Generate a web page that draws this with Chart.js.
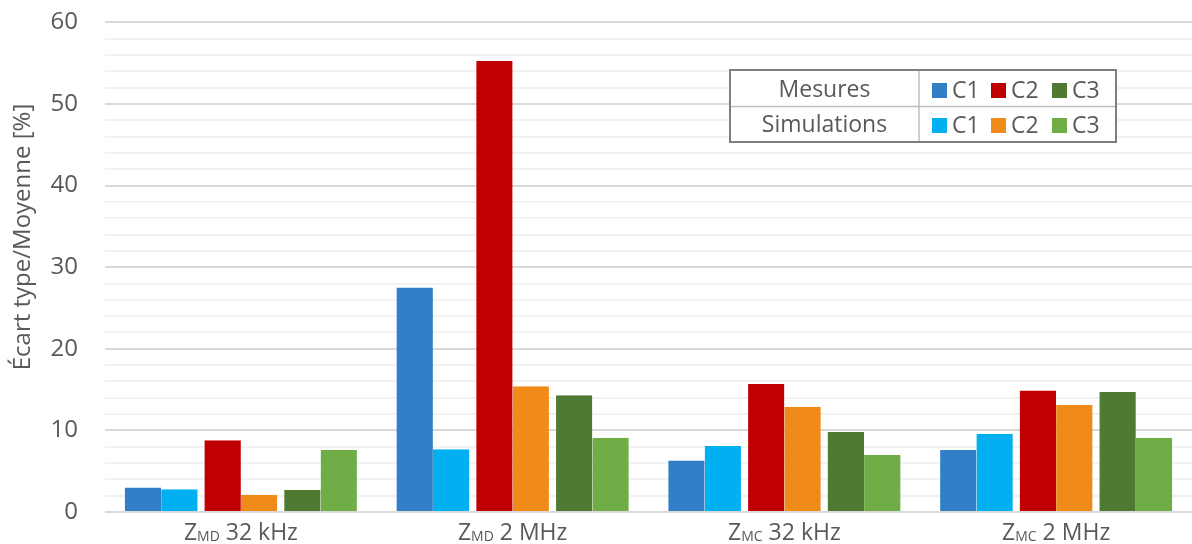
<!DOCTYPE html>
<html>
<head>
<meta charset="utf-8">
<script src="https://cdn.jsdelivr.net/npm/chart.js"></script>
<style>
  html, body { margin: 0; padding: 0; background: #fff; }
  #wrap { width: 1192px; height: 544px; }
</style>
</head>
<body>
<div id="wrap"><canvas id="ecartChart"></canvas></div>
<script>
// data
const categories = ['ZMD 32 kHz', 'ZMD 2 MHz', 'ZMC 32 kHz', 'ZMC 2 MHz'];
const catSub = ['MD', 'MD', 'MC', 'MC'];
const catSuffix = ['32 kHz', '2 MHz', '32 kHz', '2 MHz'];

const mesuresC1 = [3.0, 27.5, 6.3, 7.6];
const simC1 = [2.8, 7.7, 8.1, 9.6];
const mesuresC2 = [8.8, 55.3, 15.7, 14.9];
const simC2 = [2.1, 15.4, 12.9, 13.1];
const mesuresC3 = [2.7, 14.3, 9.8, 14.7];
const simC3 = [7.6, 9.1, 7.0, 9.1];

const yMin = 0;
const yMax = 60;
const yMajor = 10;
const yMinor = 2;
const yTitle = 'Écart type/Moyenne [%]';

const FONT = '"Open Sans", sans-serif';
const TXT = '#595959';
const GAP = 3.6; // half gap between pairs of bars

// mesures bars get a transparent border on the left, simulations on the right
function makeSet(label, data, color, isMes) {
  return {
    label: label,
    data: data,
    backgroundColor: color,
    borderColor: 'rgba(0,0,0,0)',
    borderWidth: isMes ? { left: GAP, right: 0, top: 0, bottom: 0 } : { left: 0, right: GAP, top: 0, bottom: 0 },
    borderSkipped: false,
    barPercentage: 1,
    categoryPercentage: 0.88
  };
}

const datasets = [
  makeSet('Mesures C1', mesuresC1, '#327fc8', true),
  makeSet('Simulations C1', simC1, '#00b0f0', false),
  makeSet('Mesures C2', mesuresC2, '#c00000', true),
  makeSet('Simulations C2', simC2, '#f08a18', false),
  makeSet('Mesures C3', mesuresC3, '#4e7a31', true),
  makeSet('Simulations C3', simC3, '#70ad47', false)
];

// table legend, y title and x labels with subscripts
const customDraw = {
  id: 'customDraw',
  afterDraw(chart) {
    const ctx = chart.ctx;
    const xs = chart.scales.x;
    ctx.save();

    // y title
    ctx.save();
    ctx.translate(23, 237);
    ctx.rotate(-Math.PI / 2);
    ctx.font = '24px ' + FONT;
    ctx.fillStyle = TXT;
    ctx.textAlign = 'center';
    ctx.textBaseline = 'middle';
    ctx.fillText(yTitle, 0, 0);
    ctx.restore();

    // x labels
    ctx.fillStyle = TXT;
    ctx.textBaseline = 'alphabetic';
    ctx.textAlign = 'left';
    const big = '23px ' + FONT;
    const small = '14px ' + FONT;
    categories.forEach((c, i) => {
      ctx.font = big;
      const wZ = ctx.measureText('Z').width;
      const wRest = ctx.measureText(' ' + catSuffix[i]).width;
      ctx.font = small;
      const wSub = ctx.measureText(catSub[i]).width;
      const total = wZ + wSub + wRest;
      let x = xs.getPixelForTick(i) - total / 2;
      const y = 540;
      ctx.font = big;
      ctx.fillText('Z', x, y);
      x += wZ;
      ctx.font = small;
      ctx.fillText(catSub[i], x, y + 1);
      x += wSub;
      ctx.font = big;
      ctx.fillText(' ' + catSuffix[i], x, y);
    });

    // legend table
    const L = 730, R = 1116, T = 70, B = 142, MID = 919, ROW = 106.5;
    ctx.fillStyle = '#ffffff';
    ctx.fillRect(L, T, R - L, B - T);
    ctx.strokeStyle = '#bfbfbf';
    ctx.lineWidth = 1.5;
    ctx.beginPath();
    ctx.moveTo(L, ROW); ctx.lineTo(R, ROW);
    ctx.moveTo(MID, T); ctx.lineTo(MID, B);
    ctx.stroke();
    ctx.strokeStyle = '#7f7f7f';
    ctx.lineWidth = 2;
    ctx.strokeRect(L, T, R - L, B - T);

    const rows = [
      { name: 'Mesures', sets: [0, 2, 4], y: 90 },
      { name: 'Simulations', sets: [1, 3, 5], y: 125 }
    ];
    const names = ['C1', 'C2', 'C3'];
    const boxX = [932, 991, 1052];
    ctx.font = '23px ' + FONT;
    ctx.textBaseline = 'middle';
    rows.forEach(r => {
      ctx.fillStyle = TXT;
      ctx.textAlign = 'center';
      ctx.fillText(r.name, (L + MID) / 2, r.y);
      r.sets.forEach((d, k) => {
        ctx.fillStyle = chart.data.datasets[d].backgroundColor;
        ctx.fillRect(boxX[k], r.y - 7, 15, 15);
        ctx.fillStyle = TXT;
        ctx.textAlign = 'left';
        ctx.fillText(names[k], boxX[k] + 20, r.y + 1);
      });
    });
    ctx.restore();
  }
};

new Chart(document.getElementById('ecartChart'), {
  type: 'bar',
  data: {
    labels: categories,
    datasets: datasets
  },
  options: {
    responsive: true,
    maintainAspectRatio: false,
    animation: false,
    layout: { padding: 0 },
    plugins: {
      legend: { display: false },
      tooltip: { enabled: false }
    },
    scales: {
      x: {
        grid: { display: false },
        border: { display: false },
        ticks: { color: 'rgba(0,0,0,0)', font: { family: FONT, size: 23 }, padding: 4 },
        afterFit(scale) { scale.height = 32; }
      },
      y: {
        min: yMin,
        max: yMax,
        border: { display: false },
        grid: {
          drawTicks: true,
          tickLength: 19,
          tickColor: 'rgba(0,0,0,0)',
          lineWidth: 2,
          color: c => (c.tick.value % yMajor === 0 ? '#d9d9d9' : '#f2f2f2')
        },
        ticks: {
          stepSize: yMinor,
          autoSkip: false,
          padding: 8,
          color: TXT,
          font: { family: FONT, size: 24 },
          callback: v => (v % yMajor === 0 ? v : '')
        },
        afterFit(scale) { scale.width = 105; }
      }
    }
  },
  plugins: [customDraw]
});
</script>
</body>
</html>
